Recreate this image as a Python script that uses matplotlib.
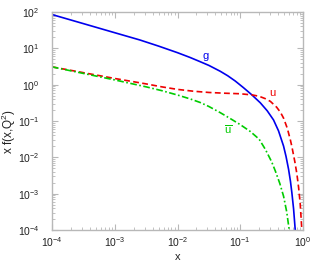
import matplotlib
matplotlib.use("Agg")
import matplotlib.pyplot as plt
from matplotlib.ticker import LogLocator, NullFormatter

plt.rcParams['font.family'] = ['Liberation Sans', 'DejaVu Sans']
plt.rcParams['mathtext.fontset'] = 'custom'
plt.rcParams['mathtext.rm'] = 'Liberation Sans'
plt.rcParams['mathtext.it'] = 'Liberation Sans'

# gluon x g(x)
x_g = [1e-4, 3.16e-4, 1e-3, 2.51e-3, 5.01e-3, 0.01, 0.0158, 0.0224, 0.0316, 0.0479,
       0.0631, 0.0832, 0.112, 0.153, 0.209, 0.269, 0.339, 0.407, 0.49, 0.537,
       0.589, 0.631, 0.665, 0.708, 0.752]
f_g = [85.1, 47.9, 26.9, 17.0, 11.5, 7.59, 5.62, 4.37, 3.39, 2.34,
       1.76, 1.26, 0.832, 0.525, 0.316, 0.191, 0.107, 0.0537, 0.0204, 0.0105,
       0.00468, 0.00219, 0.00105, 0.00038, 0.0001]

# up quark x u(x)
x_u = [1e-4, 3.16e-4, 1e-3, 3.16e-3, 5.62e-3, 0.01, 0.0178, 0.0316, 0.0562, 0.1,
       0.158, 0.2, 0.251, 0.302, 0.38, 0.437, 0.49, 0.562, 0.631, 0.664,
       0.741, 0.798, 0.851, 0.902, 0.959]
f_u = [3.09, 2.14, 1.48, 1.05, 0.871, 0.741, 0.661, 0.61, 0.582, 0.562,
       0.519, 0.479, 0.412, 0.347, 0.24, 0.174, 0.120, 0.063, 0.0295, 0.020,
       0.00759, 0.00355, 0.00148, 0.000537, 0.0001]

# anti-up x ubar(x)
x_ub = [1e-4, 3.16e-4, 1e-3, 3.16e-3, 5.62e-3, 0.01, 0.0158, 0.0229, 0.0316, 0.0479,
        0.0692, 0.1, 0.145, 0.2, 0.251, 0.316, 0.363, 0.427, 0.49, 0.55, 0.603]
f_ub = [3.09, 2.04, 1.35, 0.871, 0.684, 0.519, 0.407, 0.324, 0.251, 0.170,
        0.117, 0.0794, 0.0513, 0.0316, 0.0166, 0.00759, 0.00417, 0.00191, 0.000851,
        0.000316, 0.0001]

W, H = 311, 264
fig = plt.figure(figsize=(W / 100, H / 100), dpi=100)
ax = fig.add_axes([52 / W, (H - 230) / H, (303 - 52) / W, (230 - 12) / H])

ax.plot(x_g, f_g, color='#0000ee', lw=1.2, ls='-')
ax.plot(x_u, f_u, color='#ee0000', lw=1.2, ls=(0, (3.5, 2)))
ax.plot(x_ub, f_ub, color='#00cc00', lw=1.2, ls=(0, (4, 1.5, 1, 1.5)))

ax.set_xscale('log')
ax.set_yscale('log')
ax.set_xlim(1e-4, 1)
ax.set_ylim(1e-4, 1e2)

ax.xaxis.set_major_locator(LogLocator(base=10, numticks=10))
ax.yaxis.set_major_locator(LogLocator(base=10, numticks=10))
ax.xaxis.set_minor_locator(LogLocator(base=10, subs=range(2, 10), numticks=20))
ax.yaxis.set_minor_locator(LogLocator(base=10, subs=range(2, 10), numticks=20))
ax.xaxis.set_minor_formatter(NullFormatter())
ax.yaxis.set_minor_formatter(NullFormatter())

spc = '#b8b8b8'
for s in ax.spines.values():
    s.set_color(spc)
    s.set_linewidth(1.0)
ax.tick_params(which='both', direction='in', top=True, right=True, color=spc,
               labelsize=7.5, labelcolor='#222222')
ax.tick_params(which='major', length=4, width=0.8, pad=4)
ax.tick_params(axis='y', which='major', pad=9)
ax.tick_params(which='minor', length=2, width=0.6)

ax.set_xlabel('x', fontsize=8, color='#222222', va='center')
ax.xaxis.set_label_coords(0.5, -0.124)
ax.set_ylabel(r'x f(x,Q$^2$)', fontsize=8.5, color='#222222', va='center')
ax.yaxis.set_label_coords(-0.172, 0.45)

# curve labels
lx = lambda px: 10 ** (-4 + (px - 52) / 62.75)
ly = lambda py: 10 ** (2 - (py - 12) / 36.33)
ax.text(lx(206), ly(56), 'g', color='#0000ee', fontsize=8, ha='center', va='center')
ax.text(lx(272), ly(93), 'u', color='#ee0000', fontsize=8, ha='center', va='center')
ax.text(lx(228), ly(130), r'$\overline{\mathrm{u}}$', color='#00cc00', fontsize=8,
        ha='center', va='center')

fig.savefig('out.png', dpi=100, facecolor='white')
